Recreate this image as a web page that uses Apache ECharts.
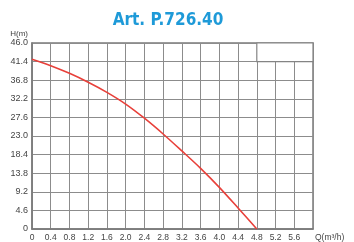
<!DOCTYPE html>
<html>
<head>
<meta charset="utf-8">
<script src="https://cdn.jsdelivr.net/npm/echarts@6/dist/echarts.min.js"></script>
<style>
  html, body { margin: 0; padding: 0; background: #fff; }
  #chart { width: 354px; height: 242px; }
</style>
</head>
<body>
<div id="chart"></div>
<script>
// pump curve
var flow = [0, 0.4, 0.8, 1.2, 1.6, 2.0, 2.4, 2.8, 3.2, 3.6, 4.0, 4.4, 4.8];
var head = [42.0, 40.4, 38.5, 36.3, 33.8, 30.9, 27.4, 23.5, 19.3, 15.0, 10.3, 5.2, 0];

var titleText = 'Art. P.726.40';
var xName = 'Q(m³/h)';
var yName = 'H(m)';

var points = [];
for (var i = 0; i < flow.length; i++) {
    points.push([flow[i], head[i]]);
}

var myChart = echarts.init(document.getElementById('chart'));

var option = {
    backgroundColor: '#fff',
    animation: false,
    title: {
        text: titleText,
        left: 163,
        top: 7,
        textAlign: 'center',
        textStyle: {
            fontFamily: '"DejaVu Sans Condensed", "Liberation Sans", sans-serif',
            fontWeight: 'bold',
            fontSize: 17,
            color: '#1e9ad8'
        }
    },
    grid: {
        left: 32,
        right: 41,
        top: 43,
        bottom: 12,
        show: true,
        borderColor: '#7a7a7a',
        borderWidth: 1.5
    },
    xAxis: {
        type: 'value',
        min: 0,
        max: 6.0,
        interval: 0.4,
        name: xName,
        nameLocation: 'end',
        nameGap: 2,
        nameTextStyle: {
            fontFamily: 'Liberation Sans',
            fontSize: 8.5,
            color: '#444',
            verticalAlign: 'top',
            padding: [4, 0, 0, 0]
        },
        axisLine: { show: true, lineStyle: { color: '#7a7a7a', width: 1.5 } },
        axisTick: { show: false },
        axisLabel: {
            fontFamily: 'Liberation Sans',
            fontSize: 8.5,
            color: '#444',
            margin: 4,
            formatter: function (v) {
                if (v > 5.7) return '';
                return v === 0 ? '0' : v.toFixed(1);
            }
        },
        splitLine: { show: true, lineStyle: { color: '#8c8c8c', width: 1 } }
    },
    yAxis: {
        type: 'value',
        min: 0,
        max: 46,
        interval: 4.6,
        name: yName,
        nameLocation: 'end',
        nameGap: 5,
        nameTextStyle: {
            fontFamily: 'Liberation Sans',
            fontSize: 8,
            color: '#444',
            align: 'right',
            padding: [0, 4, 0, 0]
        },
        axisLine: { show: true, lineStyle: { color: '#7a7a7a', width: 1.5 } },
        axisTick: { show: false },
        axisLabel: {
            fontFamily: 'Liberation Sans',
            fontSize: 9,
            color: '#444',
            margin: 4,
            formatter: function (v) {
                return v === 0 ? '0' : v.toFixed(1);
            }
        },
        splitLine: { show: true, lineStyle: { color: '#8c8c8c', width: 1 } }
    },
    series: [
        {
            type: 'line',
            data: points,
            smooth: 0.3,
            showSymbol: false,
            lineStyle: { color: '#e8403a', width: 1.6 },
            z: 5,
            markArea: {
                silent: true,
                itemStyle: { color: '#fff', borderColor: '#848484', borderWidth: 1.2 },
                data: [[{ coord: [4.8, 41.4] }, { coord: [6.0, 46] }]]
            }
        }
    ]
};

myChart.setOption(option);
window.addEventListener('resize', function () {
    myChart.resize();
});
</script>
</body>
</html>
